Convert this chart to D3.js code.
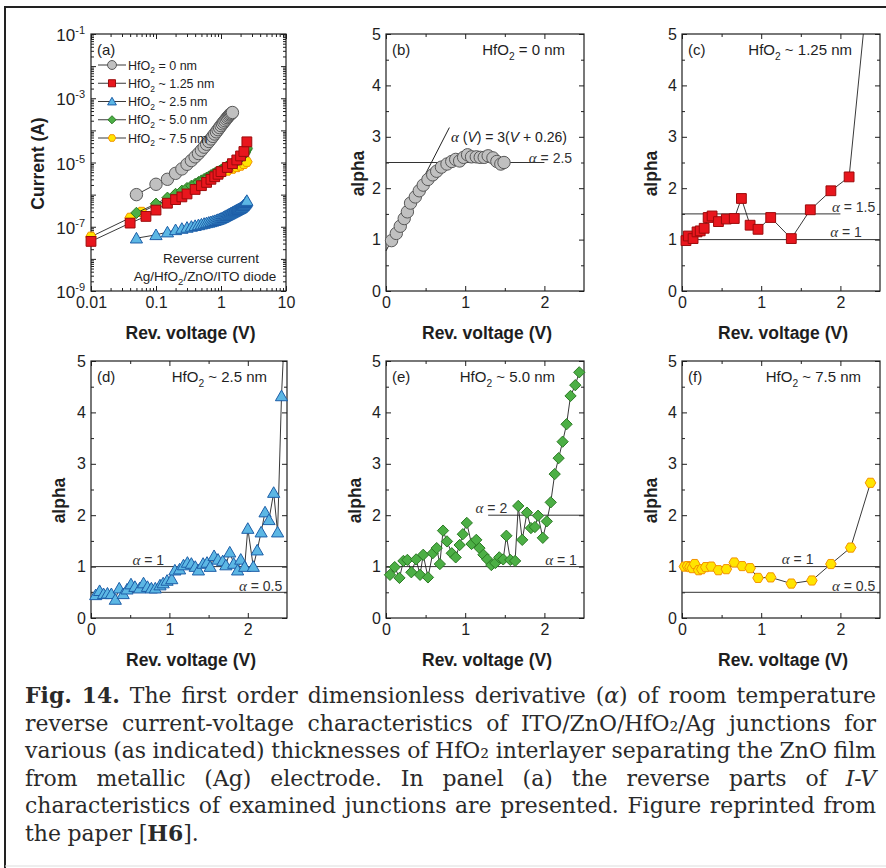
<!DOCTYPE html>
<html>
<head>
<meta charset="utf-8">
<script src="https://cdn.jsdelivr.net/npm/d3@7/dist/d3.min.js"></script>
<style>
  body { margin: 0; background: #fff; }
  svg { display: block; }
</style>
</head>
<body>
<svg id="fig" width="886" height="868"></svg>
<script>
// ---------- panel (a): reverse I-V ----------
const ivV0 = [0.05, 0.1, 0.15, 0.2, 0.25, 0.3, 0.35, 0.4, 0.45, 0.5, 0.55, 0.6, 0.65, 0.7, 0.75,
  0.8, 0.85, 0.9, 0.95, 1.0, 1.05, 1.1, 1.15, 1.2, 1.25, 1.3, 1.35, 1.4, 1.45, 1.5]
const ivI0 = [1.0e-6, 2.1e-6, 3.0e-6, 4.6e-6, 6.3e-6, 8.8e-6, 1.15e-5, 1.5e-5, 1.9e-5, 2.4e-5,
  3.0e-5, 3.7e-5, 4.5e-5, 5.4e-5, 6.5e-5, 7.7e-5, 9.0e-5, 1.05e-4, 1.22e-4, 1.4e-4,
  1.6e-4, 1.8e-4, 2.0e-4, 2.25e-4, 2.5e-4, 2.75e-4, 3.0e-4, 3.2e-4, 3.4e-4, 3.6e-4]

const ivV125 = [0.01, 0.04, 0.07, 0.1, 0.15, 0.2, 0.25, 0.3, 0.4, 0.5, 0.6, 0.7, 0.8, 0.9, 1.0,
  1.25, 1.5, 1.75, 2.0, 2.25, 2.5]
const ivI125 = [3.5e-8, 1.3e-7, 2.1e-7, 3.3e-7, 5.4e-7, 7.0e-7, 8.5e-7, 1.05e-6, 1.45e-6, 1.9e-6,
  2.4e-6, 3.0e-6, 3.6e-6, 4.3e-6, 5.2e-6, 7.0e-6, 9.2e-6, 1.2e-5, 1.6e-5, 2.2e-5, 4.4e-5]

const ivV25 = [0.05, 0.1, 0.15, 0.2, 0.25, 0.3, 0.35, 0.4, 0.45, 0.5, 0.55, 0.6, 0.65, 0.7, 0.75,
  0.8, 0.85, 0.9, 0.95, 1.0, 1.05, 1.1, 1.15, 1.2, 1.25, 1.3, 1.35, 1.4, 1.45, 1.5, 1.55, 1.6,
  1.65, 1.7, 1.75, 1.8, 1.85, 1.9, 1.95, 2.0, 2.05, 2.1, 2.15, 2.2, 2.25, 2.3, 2.35, 2.4, 2.45, 2.5]
const ivI25 = [0.44e-7, 0.56e-7, 0.68e-7, 0.80e-7, 0.88e-7, 0.95e-7, 1.02e-7, 1.08e-7, 1.14e-7, 1.20e-7,
  1.26e-7, 1.32e-7, 1.37e-7, 1.42e-7, 1.48e-7, 1.54e-7, 1.60e-7, 1.67e-7, 1.74e-7, 1.82e-7,
  1.91e-7, 2.0e-7, 2.1e-7, 2.2e-7, 2.3e-7, 2.4e-7, 2.5e-7, 2.6e-7, 2.7e-7, 2.8e-7,
  2.9e-7, 3.0e-7, 3.1e-7, 3.2e-7, 3.3e-7, 3.4e-7, 3.5e-7, 3.6e-7, 3.7e-7, 3.8e-7,
  3.95e-7, 4.1e-7, 4.3e-7, 4.5e-7, 4.75e-7, 5.0e-7, 5.3e-7, 5.6e-7, 6.0e-7, 6.5e-7]

const ivV50 = ivV25.slice()
const ivI50 = [0.27e-6, 0.52e-6, 0.80e-6, 1.05e-6, 1.32e-6, 1.60e-6, 1.88e-6, 2.15e-6, 2.45e-6, 2.75e-6,
  3.05e-6, 3.35e-6, 3.65e-6, 4.0e-6, 4.3e-6, 4.6e-6, 4.9e-6, 5.2e-6, 5.5e-6, 5.8e-6,
  6.2e-6, 6.5e-6, 6.9e-6, 7.2e-6, 7.6e-6, 7.9e-6, 8.2e-6, 8.5e-6, 8.8e-6, 9.1e-6,
  9.5e-6, 9.9e-6, 10.3e-6, 10.8e-6, 11.3e-6, 11.8e-6, 12.4e-6, 13.0e-6, 13.6e-6, 14.2e-6,
  14.8e-6, 15.5e-6, 16.3e-6, 17.2e-6, 18.3e-6, 19.6e-6, 21.2e-6, 23.2e-6, 25.5e-6, 28.0e-6]

const ivV75 = [0.01, 0.04, 0.06, 0.1, 0.15, 0.2, 0.25, 0.3, 0.4, 0.5, 0.6, 0.7, 0.8, 0.9, 1.0,
  1.25, 1.5, 1.75, 2.0, 2.25, 2.5]
const ivI75 = [4.9e-8, 1.9e-7, 2.9e-7, 4.7e-7, 7.0e-7, 9.4e-7, 1.17e-6, 1.4e-6, 1.85e-6, 2.3e-6,
  2.8e-6, 3.3e-6, 3.8e-6, 4.3e-6, 4.7e-6, 5.6e-6, 6.4e-6, 7.2e-6, 8.0e-6, 9.0e-6, 1.05e-5]

// ---------- panels (b)-(f): alpha = dlnI/dlnV ----------
const alphaV0 = [0.07, 0.13, 0.18, 0.23, 0.27, 0.31, 0.37, 0.42, 0.47, 0.53, 0.59, 0.64, 0.70, 0.77,
  0.83, 0.88, 0.93, 0.98, 1.03, 1.08, 1.14, 1.19, 1.24, 1.29, 1.35, 1.40, 1.45, 1.49]
const alpha0 = [0.98, 1.12, 1.26, 1.41, 1.54, 1.71, 1.83, 1.95, 2.06, 2.17, 2.26, 2.33, 2.41, 2.47,
  2.52, 2.56, 2.53, 2.60, 2.65, 2.61, 2.61, 2.60, 2.60, 2.63, 2.59, 2.52, 2.47, 2.50]

const alphaV125 = [0.05, 0.08, 0.14, 0.19, 0.23, 0.28, 0.33, 0.38, 0.46, 0.56, 0.66, 0.75, 0.86, 0.96,
  1.12, 1.38, 1.62, 1.88, 2.11, 2.36]
const alpha125 = [0.98, 1.07, 1.02, 1.15, 1.17, 1.22, 1.43, 1.46, 1.35, 1.40, 1.41, 1.80, 1.28, 1.20,
  1.43, 1.02, 1.58, 1.95, 2.22, 6.1]

const alphaV25 = [0.06, 0.11, 0.16, 0.21, 0.26, 0.31, 0.36, 0.41, 0.46, 0.51, 0.56, 0.62, 0.67, 0.72,
  0.77, 0.82, 0.88, 0.92, 0.97, 1.03, 1.07, 1.13, 1.18, 1.23, 1.28, 1.33, 1.37, 1.43, 1.48, 1.52,
  1.57, 1.62, 1.68, 1.72, 1.77, 1.82, 1.87, 1.91, 1.96, 2.00, 2.07, 2.12, 2.17, 2.22, 2.27, 2.33,
  2.38, 2.43, 2.48]
const alpha25 = [0.45, 0.53, 0.47, 0.48, 0.47, 0.36, 0.58, 0.47, 0.56, 0.66, 0.61, 0.58, 0.68, 0.61,
  0.58, 0.58, 0.64, 0.68, 0.73, 0.76, 0.93, 0.95, 1.03, 1.08, 1.06, 1.00, 0.93, 1.06, 1.08, 1.00,
  1.21, 1.14, 1.11, 1.03, 1.28, 1.06, 0.93, 1.14, 1.00, 1.74, 1.00, 1.32, 1.67, 2.06, 1.91, 2.44,
  1.67, 4.32, 6.0]

const alphaV50 = [0.05, 0.11, 0.17, 0.22, 0.27, 0.32, 0.38, 0.43, 0.47, 0.53, 0.59, 0.64, 0.68, 0.72,
  0.77, 0.83, 0.88, 0.93, 0.97, 1.02, 1.08, 1.14, 1.18, 1.23, 1.28, 1.33, 1.38, 1.43, 1.48, 1.52,
  1.57, 1.63, 1.67, 1.72, 1.78, 1.83, 1.88, 1.92, 1.98, 2.03, 2.08, 2.13, 2.18, 2.23, 2.28, 2.33,
  2.39, 2.44]
const alpha50 = [0.84, 0.99, 0.78, 1.11, 1.13, 0.89, 1.14, 0.84, 1.23, 0.79, 1.26, 1.36, 1.05, 1.70,
  1.49, 1.26, 1.18, 1.42, 1.63, 1.85, 1.44, 1.52, 1.36, 1.23, 1.14, 1.03, 1.07, 1.18, 1.14, 1.60,
  1.13, 1.11, 2.18, 1.52, 2.05, 1.75, 1.77, 1.99, 1.56, 1.88, 2.25, 2.80, 3.11, 3.43, 3.77, 4.32,
  4.53, 4.78]

const alphaV75 = [0.03, 0.07, 0.10, 0.13, 0.16, 0.21, 0.25, 0.30, 0.37, 0.46, 0.56, 0.66, 0.76, 0.86,
  0.96, 1.12, 1.38, 1.64, 1.88, 2.13, 2.38]
const alpha75 = [1.00, 1.01, 0.99, 0.97, 1.05, 0.93, 0.95, 0.99, 1.00, 0.93, 0.95, 1.08, 1.01, 0.97,
  0.78, 0.79, 0.67, 0.73, 1.05, 1.37, 2.63]

// reference levels: [alpha, V from, V to] and their labels: [value, V, alpha, anchor]
const refB = [[2.5, 0, 2]]
const refLabB = [['2.5', 2.35, 2.59, 'end']]
const refC = [[1.5, 0, 2], [1, 0, 2.5]]
const refLabC = [['1.5', 2.44, 1.64, 'end'], ['1', 2.27, 1.15, 'end']]
const refD = [[1, 0, 2.5], [0.5, 0, 2.5]]
const refLabD = [['1', 0.73, 1.13, 'middle'], ['0.5', 2.44, 0.62, 'end']]
const refE = [[2, 1.29, 2.5], [1, 0, 2.5]]
const refLabE = [['2', 1.53, 2.14, 'end'], ['1', 2.41, 1.13, 'end']]
const refF = [[1, 0, 2.5], [0.5, 0, 2.5]]
const refLabF = [['1', 1.46, 1.15, 'middle'], ['0.5', 2.44, 0.62, 'end']]
// linear fit drawn in (b): alpha(V) = 3(V + 0.26)
const fitB = { k: 3, c: 0.26, from: 0, to: 0.8 }

// ticks and labels
const logXTicks = [0.01, 0.1, 1, 10]
const logXLabels = ['0.01', '0.1', '1', '10']
const logYExps = [-1, -2, -3, -4, -5, -6, -7, -8, -9]
const logYLabelExps = [-1, -3, -5, -7, -9]
const alphaTicks = [0, 1, 2, 3, 4, 5]
const alphaMinor = [0.5, 1.5, 2.5, 3.5, 4.5]
const voltTicks = [0, 1, 2]
const voltMinor = [0.5, 1.5]
const thickness = ['= 0 nm', '~ 1.25 nm', '~ 2.5 nm', '~ 5.0 nm', '~ 7.5 nm']

const styles = [
  { shape: 'circle', s: 6.2, fill: '#c0c0c0', stroke: '#585858' },
  { shape: 'square', s: 4.9, fill: '#e8161d', stroke: '#9c0b0b' },
  { shape: 'triangle', s: 5.3, fill: '#5cb7e4', stroke: '#1d5ea8' },
  { shape: 'diamond', s: 4.7, fill: '#4caf45', stroke: '#2b7a24' },
  { shape: 'hexagon', s: 4.8, fill: '#ffe500', stroke: '#f39200' }
]

const captionLines = [
  '*Fig. 14.* The first order dimensionless derivative (_α_) of room temperature',
  'reverse current-voltage characteristics of ITO/ZnO/HfO₂/Ag junctions for',
  'various (as indicated) thicknesses of HfO₂ interlayer separating the ZnO film',
  'from metallic (Ag) electrode. In panel (a) the reverse parts of _I-V_',
  'characteristics of examined junctions are presented. Figure reprinted from',
  'the paper [*H6*].'
]

// ---------- drawing ----------
const svg = d3.select('#fig')
const sans = "'Liberation Sans', Arial, Helvetica, sans-serif"
const serif = "'Liberation Serif', 'Times New Roman', serif"
const ink = '#1e1e1e'

svg.append('path').attr('d', 'M5,868V7H886').attr('fill', 'none')
  .attr('stroke', '#222').attr('stroke-width', 2)
svg.append('line').attr('x1', 5).attr('x2', 886).attr('y1', 866).attr('y2', 866)
  .attr('stroke', '#ddd').attr('stroke-width', 1)

function shapePath (shape, s) {
  switch (shape) {
    case 'circle': return `M${-s},0A${s},${s} 0 1,0 ${s},0A${s},${s} 0 1,0 ${-s},0Z`
    case 'square': return `M${-s},${-s}H${s}V${s}H${-s}Z`
    case 'triangle': return `M0,${-s * 1.1}L${s * 1.15},${s * 0.9}L${-s * 1.15},${s * 0.9}Z`
    case 'diamond': return `M0,${-s * 1.2}L${s * 1.2},0L0,${s * 1.2}L${-s * 1.2},0Z`
    default: return d3.range(6).map(k => {
      const a = k * Math.PI / 3
      return (k ? 'L' : 'M') + (s * 1.1 * Math.cos(a)).toFixed(2) + ',' + (s * 1.1 * Math.sin(a)).toFixed(2)
    }).join('') + 'Z'
  }
}

function hfo (text, fs, suffix) {
  text.append('tspan').text('HfO')
  text.append('tspan').attr('dy', fs * 0.3).attr('font-size', fs * 0.68).text('2')
  text.append('tspan').attr('dy', -fs * 0.3).text(' ' + suffix)
}

function axes (g, x, y, o) {
  const [l, r] = x.range()
  const [b, t] = y.range()
  g.append('rect').attr('x', l).attr('y', t).attr('width', r - l).attr('height', b - t)
    .attr('fill', 'none').attr('stroke', ink).attr('stroke-width', 1.2)
  const mk = (axis, tr, vals, size, fmt, pad) => {
    const a = g.append('g').attr('transform', tr)
      .call(axis.tickValues(vals).tickSizeInner(size).tickSizeOuter(0)
        .tickPadding(pad || 5).tickFormat(fmt || (() => '')))
    a.select('.domain').remove()
    a.selectAll('line').attr('stroke', ink)
    a.selectAll('text').attr('font-family', sans).attr('font-size', 16).attr('fill', ink)
  }
  mk(d3.axisBottom(x), `translate(0,${b})`, o.xMajor, -5, o.xFmt, 6)
  mk(d3.axisBottom(x), `translate(0,${b})`, o.xMinor, -3)
  mk(d3.axisTop(x), `translate(0,${t})`, o.xMajor, -5)
  mk(d3.axisTop(x), `translate(0,${t})`, o.xMinor, -3)
  mk(d3.axisLeft(y), `translate(${l},0)`, o.yMajor, -5, o.yFmt, 5)
  mk(d3.axisLeft(y), `translate(${l},0)`, o.yMinor, -3)
  mk(d3.axisRight(y), `translate(${r},0)`, o.yMajor, -5)
  mk(d3.axisRight(y), `translate(${r},0)`, o.yMinor, -3)

  g.append('text').attr('x', (l + r) / 2 + 2).attr('y', b + 48).attr('text-anchor', 'middle')
    .attr('font-family', sans).attr('font-weight', 'bold').attr('font-size', 17.5).attr('fill', ink)
    .text('Rev. voltage (V)')
  g.append('text').attr('transform', `translate(${l + o.yLabelDx},${(t + b) / 2 + o.yLabelDy}) rotate(-90)`)
    .attr('text-anchor', 'middle').attr('dy', '0.35em')
    .attr('font-family', sans).attr('font-weight', 'bold').attr('font-size', 17.5).attr('fill', ink)
    .text(o.yLabel)
}

function series (g, x, y, X, Y, st, clipId) {
  const pts = X.map((v, i) => [x(v), y(Y[i])])
  const d = g.append('g').attr('clip-path', `url(#${clipId})`)
  d.append('path').attr('d', d3.line()(pts)).attr('fill', 'none')
    .attr('stroke', '#222').attr('stroke-width', 0.9)
  d.selectAll('path.m').data(pts).enter().append('path').attr('class', 'm')
    .attr('transform', p => `translate(${p[0]},${p[1]})`)
    .attr('d', shapePath(st.shape, st.s))
    .attr('fill', st.fill).attr('stroke', st.stroke).attr('stroke-width', 1)
}

function clip (id, l, r, t, b) {
  svg.append('clipPath').attr('id', id).append('rect')
    .attr('x', l - 9).attr('y', t).attr('width', r - l + 18).attr('height', b - t + 9)
}

function panelTags (g, l, r, t, tag, suffix, inset) {
  g.append('text').attr('x', l + 6).attr('y', t + 21).attr('font-family', sans)
    .attr('font-size', 15).attr('fill', ink).text(`(${tag})`)
  if (suffix) {
    const tt = g.append('text').attr('x', r - inset).attr('y', t + 21).attr('text-anchor', 'end')
      .attr('font-family', sans).attr('font-size', 15).attr('fill', ink)
    hfo(tt, 15, suffix)
  }
}

// ----- panel (a) -----
{
  const L = 91, R = 286, T = 34, B = 291
  const x = d3.scaleLog().domain([0.01, 10]).range([L, R])
  const y = d3.scaleLog().domain([1e-9, 1e-1]).range([B, T])
  const g = svg.append('g')
  const xMinor = []
  const yMinor = []
  ;[0.01, 0.1, 1].forEach(dec => d3.range(2, 10).forEach(k => xMinor.push(dec * k)))
  logYExps.slice(1).forEach(e => d3.range(2, 10).forEach(k => yMinor.push(k * Math.pow(10, e))))
  axes(g, x, y, {
    xMajor: logXTicks, xMinor, xFmt: (d, i) => logXLabels[i],
    yMajor: logYExps.map(e => Math.pow(10, e)), yMinor,
    yLabel: 'Current (A)', yLabelDx: -53, yLabelDy: 1
  })
  logYLabelExps.forEach(e => {
    const t = g.append('text').attr('x', L - 6).attr('y', y(Math.pow(10, e)) + 7)
      .attr('text-anchor', 'end').attr('font-family', sans).attr('font-size', 17).attr('fill', ink)
    t.append('tspan').text('10')
    t.append('tspan').attr('dy', -7).attr('font-size', 11).text(String(e))
  })
  clip('clipA', L, R, T, B)
  const sets = [[ivV0, ivI0], [ivV125, ivI125], [ivV25, ivI25], [ivV50, ivI50], [ivV75, ivI75]]
  ;[4, 3, 2, 1, 0].forEach(i => series(g, x, y, sets[i][0], sets[i][1], styles[i], 'clipA'))

  g.append('text').attr('x', L + 6).attr('y', T + 21).attr('font-family', sans)
    .attr('font-size', 15).attr('fill', ink).text('(a)')
  const legY = d3.scalePoint().domain(d3.range(5)).range([65, 138])
  thickness.forEach((name, i) => {
    const yy = legY(i)
    g.append('line').attr('x1', L + 7).attr('x2', L + 35).attr('y1', yy).attr('y2', yy)
      .attr('stroke', '#222').attr('stroke-width', 0.9)
    g.append('path').attr('transform', `translate(${L + 21},${yy})`)
      .attr('d', shapePath(styles[i].shape, styles[i].s * 0.72))
      .attr('fill', styles[i].fill).attr('stroke', styles[i].stroke)
    const t = g.append('text').attr('x', L + 37).attr('y', yy + 4.5)
      .attr('font-family', sans).attr('font-size', 12.5).attr('fill', ink)
    hfo(t, 12.5, name)
  })
  g.append('text').attr('x', 211).attr('y', 263).attr('text-anchor', 'middle')
    .attr('font-family', sans).attr('font-size', 13.5).attr('fill', ink).text('Reverse current')
  const t2 = g.append('text').attr('x', 205).attr('y', 281).attr('text-anchor', 'middle')
    .attr('font-family', sans).attr('font-size', 13.5).attr('fill', ink)
  t2.append('tspan').text('Ag/HfO')
  t2.append('tspan').attr('dy', 4).attr('font-size', 9.5).text('2')
  t2.append('tspan').attr('dy', -4).text('/ZnO/ITO diode')
}

// ----- panels (b)-(f) -----
const alphaPanels = [
  { tag: 'b', L: 386, R: 584, T: 34, B: 291, st: 0, V: alphaV0, A: alpha0, inset: 19, refs: refB, labs: refLabB, dx: -28 },
  { tag: 'c', L: 682, R: 880, T: 34, B: 291, st: 1, V: alphaV125, A: alpha125, inset: 28, refs: refC, labs: refLabC, dx: -31 },
  { tag: 'd', L: 91, R: 287, T: 361, B: 618, st: 2, V: alphaV25, A: alpha25, inset: 20, refs: refD, labs: refLabD, dx: -32 },
  { tag: 'e', L: 386, R: 584, T: 361, B: 618, st: 3, V: alphaV50, A: alpha50, inset: 29, refs: refE, labs: refLabE, dx: -31 },
  { tag: 'f', L: 682, R: 880, T: 361, B: 618, st: 4, V: alphaV75, A: alpha75, inset: 19, refs: refF, labs: refLabF, dx: -31 }
]

alphaPanels.forEach(p => {
  const x = d3.scaleLinear().domain([0, 2.5]).range([p.L, p.R])
  const y = d3.scaleLinear().domain([0, 5]).range([p.B, p.T])
  const g = svg.append('g')
  axes(g, x, y, {
    xMajor: voltTicks, xMinor: voltMinor, xFmt: d3.format('d'),
    yMajor: alphaTicks, yMinor: alphaMinor, yFmt: d3.format('d'),
    yLabel: 'alpha', yLabelDx: p.dx, yLabelDy: 11
  })
  p.refs.forEach(r => {
    g.append('line').attr('x1', x(r[1])).attr('x2', x(r[2])).attr('y1', y(r[0])).attr('y2', y(r[0]))
      .attr('stroke', '#333').attr('stroke-width', 1)
  })
  p.labs.forEach(r => {
    const t = g.append('text').attr('x', x(r[1])).attr('y', y(r[2])).attr('dy', '0.35em')
      .attr('text-anchor', r[3]).attr('font-family', sans).attr('font-size', 14).attr('fill', '#333')
    t.append('tspan').attr('font-family', serif).attr('font-style', 'italic').attr('font-size', 15).text('α')
    t.append('tspan').text(' = ' + r[0])
  })
  if (p.tag === 'b') {
    g.append('line').attr('x1', x(fitB.from)).attr('x2', x(fitB.to))
      .attr('y1', y(fitB.k * (fitB.from + fitB.c))).attr('y2', y(fitB.k * (fitB.to + fitB.c)))
      .attr('stroke', '#222').attr('stroke-width', 1)
    const t = g.append('text').attr('x', x(0.82)).attr('y', y(3.0)).attr('dy', '0.35em')
      .attr('font-family', sans).attr('font-size', 14).attr('fill', '#222')
    t.append('tspan').attr('font-family', serif).attr('font-style', 'italic').attr('font-size', 15).text('α')
    t.append('tspan').text(' (')
    t.append('tspan').attr('font-style', 'italic').text('V')
    t.append('tspan').text(') = 3(')
    t.append('tspan').attr('font-style', 'italic').text('V')
    t.append('tspan').text(' + 0.26)')
  }
  clip('clip' + p.tag, p.L, p.R, p.T, p.B)
  series(g, x, y, p.V, p.A, styles[p.st], 'clip' + p.tag)
  panelTags(g, p.L, p.R, p.T, p.tag, thickness[p.st], p.inset)
})

// ----- caption, justified word by word -----
{
  const capL = 25, capR = 876, base0 = 703, lead = 27.6, fs0 = 20
  const cap = svg.append('g').attr('font-family', "'DejaVu Serif', serif").attr('fill', '#2a2a2a')
  let bold = false
  let ital = false
  const lines = captionLines.map(line => line.split(' ').map(w => {
    const segs = []
    w.split(/([*_])/).forEach(s => {
      if (s === '*') bold = !bold
      else if (s === '_') ital = !ital
      else if (s) segs.push({ t: s, b: bold, i: ital })
    })
    return segs
  }))
  const nodes = lines.map((words, li) => words.map(segs => {
    const t = cap.append('text').attr('y', base0 + li * lead).attr('font-size', fs0)
    segs.forEach(s => t.append('tspan').text(s.t)
      .attr('font-weight', s.b ? 'bold' : null).attr('font-style', s.i ? 'italic' : null))
    return t
  }))
  const space = fs0 * 0.3
  const widths = nodes.map(ws => ws.map(t => t.node().getComputedTextLength()))
  const natural = widths.map(ws => d3.sum(ws) + space * (ws.length - 1))
  // the tightest line (line 3) sets the type size, as in the printed caption
  const k = Math.min(1.12, (capR - capL) / d3.max(natural.slice(0, -1)))
  nodes.forEach((ws, li) => {
    const wsum = d3.sum(widths[li]) * k
    const last = li === nodes.length - 1
    const gap = last ? space * k : (capR - capL - wsum) / (ws.length - 1)
    let xx = capL
    ws.forEach((t, wi) => {
      t.attr('font-size', fs0 * k).attr('x', xx)
      xx += widths[li][wi] * k + gap
    })
  })
}
</script>
</body>
</html>
